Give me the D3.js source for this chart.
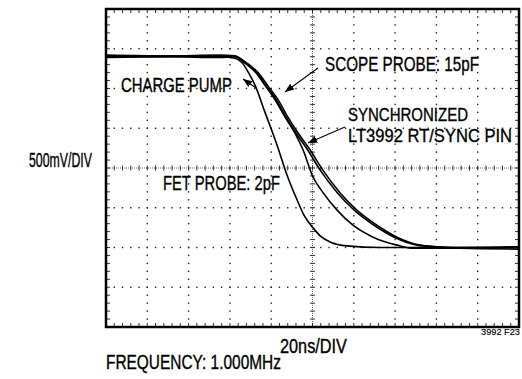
<!DOCTYPE html>
<html><head><meta charset="utf-8">
<script src="https://cdn.jsdelivr.net/npm/d3@7/dist/d3.min.js"></script>
<style>html,body{margin:0;padding:0;background:#fff;}svg{display:block;}</style>
</head><body>
<svg id="c" width="522" height="379"></svg>
<script>
// ---- data (time in ns, voltage in V relative to screen centre) ----
const fetT   = [0, 30, 55, 62.5, 66, 69, 72.2, 77, 82.8, 87.7, 92.5, 96, 100.2, 104, 108.5, 116.7, 132.7, 160, 200];
const fetV   = [1.40, 1.41, 1.40, 1.38, 1.32, 1.20, 1.04, 0.70, 0.29, -0.09, -0.40, -0.60, -0.75, -0.86, -0.93, -0.98, -1.00, -1.00, -1.00];
const syncT  = [0, 30, 55, 62.5, 67.3, 72.2, 77.0, 81.8, 86.7, 91.5, 95.4, 100.2, 105.1, 111.9, 119.6, 129.3, 140.9, 148.7, 170, 200];
const syncV  = [1.41, 1.40, 1.41, 1.40, 1.32, 1.21, 1.04, 0.86, 0.64, 0.44, 0.23, -0.11, -0.31, -0.53, -0.72, -0.87, -0.97, -1.01, -1.01, -1.00];
const scopeT = [0, 30, 55, 62.5, 68.8, 73.6, 78.5, 83.3, 88.1, 93.0, 98.8, 105.1, 113.3, 121.5, 131.2, 140.9, 152.1, 160.3, 171.4, 200];
const scopeV = [1.39, 1.40, 1.39, 1.40, 1.31, 1.20, 1.03, 0.86, 0.64, 0.44, 0.23, -0.03, -0.31, -0.53, -0.72, -0.87, -0.97, -0.99, -1.01, -1.02];
const pumpT  = [0, 30, 55, 62.5, 68, 72.8, 77.6, 82.4, 87.2, 92.0, 97.6, 103.8, 112, 120.2, 129.8, 139.6, 150.6, 159, 170, 200];
const pumpV  = [1.42, 1.41, 1.42, 1.41, 1.31, 1.20, 1.03, 0.86, 0.64, 0.44, 0.23, -0.03, -0.31, -0.53, -0.72, -0.87, -0.97, -0.99, -1.00, -0.99];

const timeDomain = [0, 200];   // 10 div x 20ns
const voltDomain = [-2, 2];    // 8 div x 500mV
const xDivs = 10, yDivs = 8, minorPerDiv = 5;

const labelTexts = ["SCOPE PROBE: 15pF", "SYNCHRONIZED", "LT3992 RT/SYNC PIN", "CHARGE PUMP", "FET PROBE: 2pF"];
const yAxisLabel = "500mV/DIV";
const xAxisLabel = "20ns/DIV";
const footText = "FREQUENCY: 1.000MHz";
const figId = "3992 F23";

// ---- layout ----
const L = 106, R = 519, T = 9, B = 327;
const x = d3.scaleLinear(timeDomain, [L, R]);
const y = d3.scaleLinear(voltDomain, [B, T]);
const svg = d3.select("#c");
const font = "'Liberation Sans', Arial, sans-serif";

svg.append("rect").attr("width", 522).attr("height", 379).attr("fill", "#fff");

const g = svg.append("g");
const xStep = (timeDomain[1] - timeDomain[0]) / xDivs;
const yStep = (voltDomain[1] - voltDomain[0]) / yDivs;
const xMajors = d3.range(1, xDivs).map(i => timeDomain[0] + i * xStep);
const yMajors = d3.range(1, yDivs).map(i => voltDomain[0] + i * yStep);
const xMinors = d3.range(1, xDivs * minorPerDiv).map(i => timeDomain[0] + i * xStep / minorPerDiv);
const yMinors = d3.range(1, yDivs * minorPerDiv).map(i => voltDomain[0] + i * yStep / minorPerDiv);
const xC = (timeDomain[0] + timeDomain[1]) / 2, yC = (voltDomain[0] + voltDomain[1]) / 2;

// dotted graticule
xMajors.filter(t => t !== xC).forEach(t => {
  g.selectAll(null).data(yMinors).enter().append("rect")
    .attr("x", x(t) - 0.7).attr("y", d => y(d) - 0.7).attr("width", 1.4).attr("height", 1.4).attr("fill", "#222");
});
yMajors.filter(v => v !== yC).forEach(v => {
  g.selectAll(null).data(xMinors).enter().append("rect")
    .attr("x", d => x(d) - 0.7).attr("y", y(v) - 0.7).attr("width", 1.4).attr("height", 1.4).attr("fill", "#222");
});
// centre cross with ticks
g.append("line").attr("x1", L).attr("x2", R).attr("y1", y(yC)).attr("y2", y(yC))
  .attr("stroke", "#666").attr("stroke-width", 1).attr("stroke-dasharray", "1,1");
g.append("line").attr("y1", T).attr("y2", B).attr("x1", x(xC)).attr("x2", x(xC))
  .attr("stroke", "#666").attr("stroke-width", 1).attr("stroke-dasharray", "1,1");
g.selectAll(null).data(xMinors).enter().append("line")
  .attr("x1", d => x(d)).attr("x2", d => x(d)).attr("y1", y(yC) - 2.5).attr("y2", y(yC) + 2.5)
  .attr("stroke", "#333").attr("stroke-width", 1);
g.selectAll(null).data(yMinors).enter().append("line")
  .attr("y1", d => y(d)).attr("y2", d => y(d)).attr("x1", x(xC) - 2.5).attr("x2", x(xC) + 2.5)
  .attr("stroke", "#333").attr("stroke-width", 1);
// frame ticks
g.selectAll(null).data(xMinors).enter().append("line")
  .attr("x1", d => x(d)).attr("x2", d => x(d)).attr("y1", T).attr("y2", T + 4)
  .attr("stroke", "#333").attr("stroke-width", 1);
g.selectAll(null).data(xMinors).enter().append("line")
  .attr("x1", d => x(d)).attr("x2", d => x(d)).attr("y1", B).attr("y2", B - 4)
  .attr("stroke", "#333").attr("stroke-width", 1);
g.selectAll(null).data(yMinors).enter().append("line")
  .attr("y1", d => y(d)).attr("y2", d => y(d)).attr("x1", L).attr("x2", L + 4)
  .attr("stroke", "#333").attr("stroke-width", 1);
g.selectAll(null).data(yMinors).enter().append("line")
  .attr("y1", d => y(d)).attr("y2", d => y(d)).attr("x1", R).attr("x2", R - 4)
  .attr("stroke", "#333").attr("stroke-width", 1);

// traces
const line = d3.line().x(d => x(d[0])).y(d => y(d[1])).curve(d3.curveMonotoneX);
const traces = [[pumpT, pumpV], [scopeT, scopeV], [syncT, syncV], [fetT, fetV]];
traces.forEach(([ts, vs]) => {
  g.append("path").attr("d", line(d3.zip(ts, vs)))
    .attr("fill", "none").attr("stroke", "#000").attr("stroke-width", 1.6).attr("stroke-linejoin", "round");
});

// frame
g.append("rect").attr("x", L).attr("y", T).attr("width", R - L).attr("height", B - T)
  .attr("fill", "none").attr("stroke", "#000").attr("stroke-width", 2.5);

// arrows
const defs = svg.append("defs");
defs.append("marker").attr("id", "ah").attr("viewBox", "0 0 10 10").attr("refX", 10).attr("refY", 5)
  .attr("markerWidth", 9).attr("markerHeight", 9).attr("markerUnits", "userSpaceOnUse").attr("orient", "auto")
  .append("path").attr("d", "M0,1 L10,5 L0,9 Z").attr("fill", "#000");
const arrows = [[[318, 68], [285, 92]], [[345, 127], [308, 143]], [[256, 88], [243, 79]]];
arrows.forEach(a => {
  svg.append("line").attr("x1", a[0][0]).attr("y1", a[0][1]).attr("x2", a[1][0]).attr("y2", a[1][1])
    .attr("stroke", "#000").attr("stroke-width", 1.1).attr("marker-end", "url(#ah)");
});

// labels: condensed look by horizontal scaling to the measured width
function txt(s, x0, base, width, size) {
  const gg = svg.append("g");
  const t = gg.append("text").attr("x", 0).attr("y", 0).attr("font-family", font).attr("font-size", size)
    .attr("fill", "#000").attr("stroke", "#000").attr("stroke-width", size > 12 ? 0.35 : 0.15).text(s);
  const w = t.node().getComputedTextLength();
  gg.attr("transform", `translate(${x0},${base}) scale(${width / w},1)`);
}
txt(labelTexts[0], 325, 70.5, 154, 20);
txt(labelTexts[1], 348, 121, 120, 18.8);
txt(labelTexts[2], 348, 142, 164, 18.8);
txt(labelTexts[3], 121, 91.5, 111, 20);
txt(labelTexts[4], 163, 189.5, 117, 20);
txt(yAxisLabel, 29, 167, 63, 20);
txt(xAxisLabel, 280, 353, 67, 20);
txt(footText, 106, 368.5, 175, 20);
txt(figId, 481, 335, 39, 9.5);
</script>
</body></html>
